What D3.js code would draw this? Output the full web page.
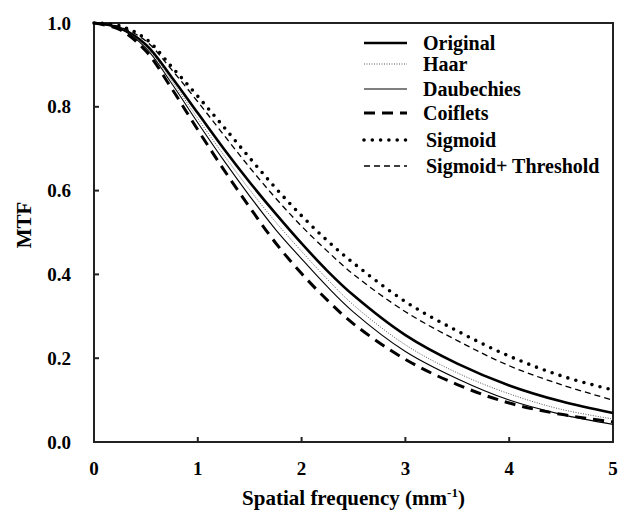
<!DOCTYPE html>
<html>
<head>
<meta charset="utf-8">
<script src="https://cdn.jsdelivr.net/npm/d3@7"></script>
<style>
  body { margin: 0; background: #fff; }
  svg text { font-family: "Liberation Serif", "Times New Roman", serif; font-weight: bold; fill: #000; }
</style>
</head>
<body>
<svg id="chart" width="618" height="510"></svg>
<script>
// spatial frequency samples (mm^-1)
const freq = [0, 0.25, 0.5, 0.75, 1, 1.25, 1.5, 1.75, 2, 2.25, 2.5, 3, 3.5, 4, 4.5, 5]

// MTF values
const original   = [1, 0.988, 0.948, 0.87, 0.785, 0.70, 0.62, 0.545, 0.474, 0.408, 0.35, 0.255, 0.187, 0.135, 0.097, 0.069]
const haar       = [1, 0.987, 0.944, 0.862, 0.772, 0.685, 0.602, 0.525, 0.455, 0.388, 0.327, 0.232, 0.165, 0.115, 0.078, 0.055]
const daubechies = [1, 0.986, 0.94, 0.855, 0.762, 0.672, 0.587, 0.507, 0.437, 0.37, 0.31, 0.216, 0.151, 0.10, 0.066, 0.042]
const coiflets   = [1, 0.984, 0.933, 0.843, 0.745, 0.65, 0.56, 0.475, 0.402, 0.338, 0.282, 0.197, 0.137, 0.093, 0.066, 0.048]
const sigmoid    = [1, 0.993, 0.962, 0.895, 0.825, 0.752, 0.678, 0.606, 0.54, 0.48, 0.427, 0.335, 0.265, 0.205, 0.158, 0.124]
const sigThresh  = [1, 0.991, 0.957, 0.888, 0.812, 0.733, 0.655, 0.582, 0.515, 0.455, 0.40, 0.311, 0.242, 0.182, 0.137, 0.10]

const names  = ['Original', 'Haar', 'Daubechies', 'Coiflets', 'Sigmoid', 'Sigmoid+ Threshold']
const series = [original, haar, daubechies, coiflets, sigmoid, sigThresh]

const xTicks = [0, 1, 2, 3, 4, 5]
const yTicks = [0, 0.2, 0.4, 0.6, 0.8, 1.0]

// line styles
const styles = [
  {w: 2.6, dash: null,    cap: 'butt',  col: '#000'},
  {w: 1,   dash: '1,1.5', cap: 'butt',  col: '#555'},
  {w: 1.1, dash: null,    cap: 'butt',  col: '#000'},
  {w: 3,   dash: '11,7',  cap: 'butt',  col: '#000'},
  {w: 3.6, dash: '0,8.3', cap: 'round', col: '#000'},
  {w: 1.3, dash: '6,4',   cap: 'butt',  col: '#000'}
]

const svg = d3.select('#chart')
const m = {left: 94, right: 5, top: 23, bottom: 68}
const W = 618, H = 510

const x = d3.scaleLinear().domain([0, 5]).range([m.left, W - m.right])
const y = d3.scaleLinear().domain([0, 1]).range([H - m.bottom, m.top])

// frame
svg.append('rect')
  .attr('x', x(0)).attr('y', y(1))
  .attr('width', x(5) - x(0)).attr('height', y(0) - y(1))
  .attr('fill', 'none').attr('stroke', '#222').attr('stroke-width', 2)

// inward ticks
svg.append('g').selectAll('line').data(xTicks.slice(1, -1)).join('line')
  .attr('x1', d => x(d)).attr('x2', d => x(d))
  .attr('y1', y(0)).attr('y2', y(0) - 5)
  .attr('stroke', '#222').attr('stroke-width', 2)

svg.append('g').selectAll('line').data(yTicks.slice(1, -1)).join('line')
  .attr('x1', x(0)).attr('x2', x(0) + 5)
  .attr('y1', d => y(d)).attr('y2', d => y(d))
  .attr('stroke', '#222').attr('stroke-width', 2)

// tick labels
svg.append('g').selectAll('text').data(xTicks).join('text')
  .attr('x', d => x(d)).attr('y', y(0) + 33)
  .attr('text-anchor', 'middle').attr('font-size', 19)
  .text(d => d)

svg.append('g').selectAll('text').data(yTicks).join('text')
  .attr('x', x(0) - 23).attr('y', d => y(d) + 6.5)
  .attr('text-anchor', 'end').attr('font-size', 19)
  .text(d3.format('.1f'))

// axis titles
const xt = svg.append('text')
  .attr('x', (x(0) + x(5)) / 2).attr('y', H - 5)
  .attr('text-anchor', 'middle').attr('font-size', 21)
xt.append('tspan').text('Spatial frequency (mm')
xt.append('tspan').attr('font-size', 13).attr('dy', -8).text('-1')
xt.append('tspan').attr('dy', 8).text(')')

svg.append('text')
  .attr('transform', `translate(31,225) rotate(-90)`)
  .attr('text-anchor', 'middle').attr('font-size', 21)
  .text('MTF')

// curves
const line = d3.line()
  .x((d, i) => x(freq[i]))
  .y(d => y(d))
  .curve(d3.curveCatmullRom.alpha(0.5))

svg.append('g').selectAll('path').data(series).join('path')
  .attr('d', line)
  .attr('fill', 'none')
  .attr('stroke', (d, i) => styles[i].col)
  .attr('stroke-width', (d, i) => styles[i].w)
  .attr('stroke-dasharray', (d, i) => styles[i].dash)
  .attr('stroke-linecap', (d, i) => styles[i].cap)

// legend
const rowY = [43, 64, 89, 113, 140, 166]
const lg = svg.append('g')
names.forEach((n, i) => {
  const s = styles[i]
  lg.append('line')
    .attr('x1', 364).attr('x2', 407)
    .attr('y1', rowY[i]).attr('y2', rowY[i])
    .attr('stroke', s.col).attr('stroke-width', s.w)
    .attr('stroke-dasharray', s.dash).attr('stroke-linecap', s.cap)
  lg.append('text')
    .attr('x', i >= 4 ? 426 : 423).attr('y', rowY[i] + 7)
    .attr('font-size', 20)
    .text(n)
})
</script>
</body>
</html>
